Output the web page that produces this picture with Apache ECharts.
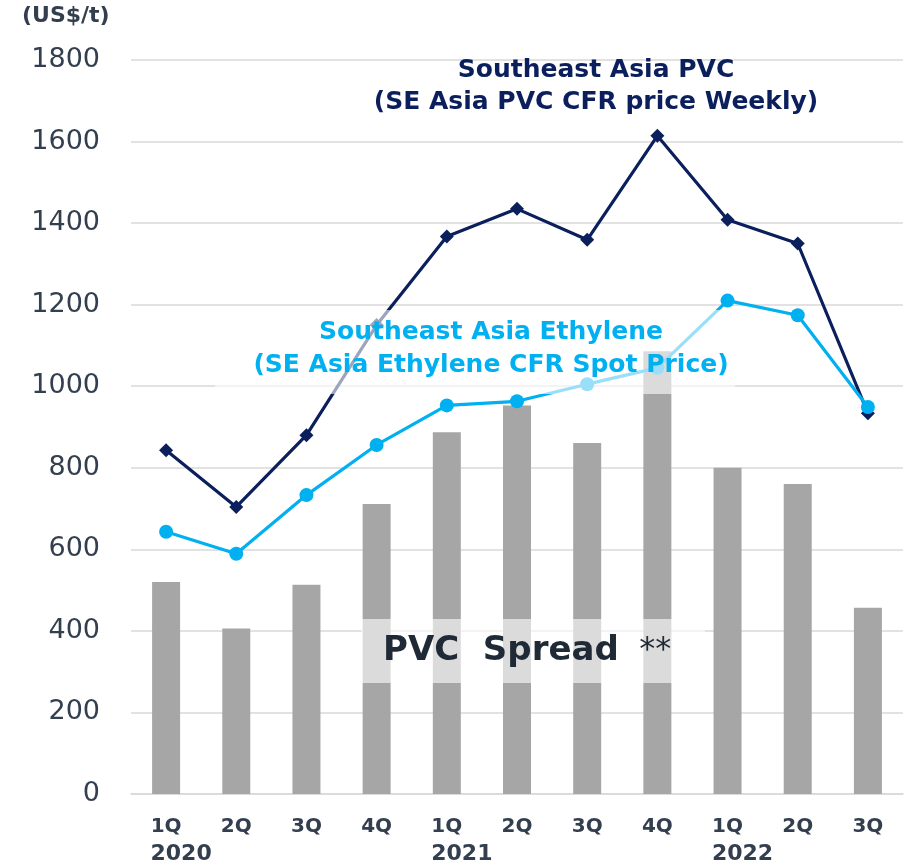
<!DOCTYPE html>
<html><head><meta charset="utf-8">
<script src="https://cdn.jsdelivr.net/npm/echarts@6/dist/echarts.min.js"></script>
<style>html,body{margin:0;padding:0;background:#fff}#c{width:906px;height:865px}</style>
</head><body><div id="c"></div>
<script>
const quarters = ['1Q','2Q','3Q','4Q','1Q','2Q','3Q','4Q','1Q','2Q','3Q'];
const years = ['2020','','','','2021','','','','2022','',''];
const spread = [520,406,513,711,887,953,861,1086,800,760,457];
const pvc = [843,704,880,1150,1367,1435,1359,1614,1408,1350,934];
const ethylene = [643,589,733,856,953,963,1005,1045,1210,1174,949];
const yMin = 0, yMax = 1800, yStep = 200;
const unitLabel = '(US$/t)';
const pvcTitle = 'Southeast Asia PVC\n(SE Asia PVC CFR price Weekly)';
const ethTitle = 'Southeast Asia Ethylene\n(SE Asia Ethylene CFR Spot Price)';

const FONT = '"DejaVu Sans", Verdana, sans-serif';
const TXT = '#333f4f';
const chart = echarts.init(document.getElementById('c'), null, {renderer: 'canvas'});
chart.setOption({
  animation: false,
  backgroundColor: '#ffffff',
  grid: {left: 131, right: 3, top: 60, bottom: 69, containLabel: false},
  xAxis: [{
    type: 'category', data: quarters, position: 'bottom',
    axisLine: {show: true, lineStyle: {color: '#d9d9d9', width: 1.5}},
    axisTick: {show: false},
    axisLabel: {margin: 23, interval: 0, fontFamily: FONT, fontSize: 20, fontWeight: 'bold', color: TXT}
  }, {
    type: 'category', data: years, position: 'bottom', offset: 41,
    axisLine: {show: false}, axisTick: {show: false}, splitLine: {show: false},
    axisLabel: {margin: 8, interval: 0, fontFamily: FONT, fontSize: 22, fontWeight: 'bold', color: TXT, padding: [0,0,0,30]}
  }],
  yAxis: {
    type: 'value', min: yMin, max: yMax, interval: yStep,
    axisLine: {show: false}, axisTick: {show: false},
    splitLine: {show: true, lineStyle: {color: '#d9d9d9', width: 1.5}},
    axisLabel: {margin: 31, fontFamily: FONT, fontSize: 27, color: TXT, formatter: v => String(v)}
  },
  series: [{
    type: 'bar', data: spread, barWidth: 28, itemStyle: {color: '#a6a6a6'}, z: 2
  }, {
    type: 'line', data: pvc, symbol: 'diamond', symbolSize: 14,
    lineStyle: {color: '#0b1f5c', width: 3.2}, itemStyle: {color: '#0b1f5c'}, z: 3
  }, {
    type: 'line', data: ethylene, symbol: 'circle', symbolSize: 14,
    lineStyle: {color: '#00b0f0', width: 3.2}, itemStyle: {color: '#00b0f0'}, z: 4
  }],
  graphic: [
    {type: 'text', left: 22, top: 5, z: 100, style: {text: unitLabel, font: 'bold 22px ' + FONT, fill: TXT}},
    {type: 'rect', z: 100, shape: {x: 215, y: 310, width: 520, height: 84}, style: {fill: 'rgba(255,255,255,0.6)'}},
    {type: 'text', z: 101, x: 491, y: 316, style: {text: ethTitle, font: 'bold 25px ' + FONT, fill: '#00b0f0', textAlign: 'center', textVerticalAlign: 'top', lineHeight: 33}},
    {type: 'rect', z: 100, shape: {x: 361, y: 619, width: 344, height: 64}, style: {fill: 'rgba(255,255,255,0.6)'}},
    {type: 'text', z: 101, x: 383, y: 651, style: {
      text: '{b|PVC  Spread}{n|  **}', textVerticalAlign: 'middle',
      rich: {b: {font: 'bold 34px ' + FONT, fill: '#1f2a36'}, n: {font: '32px ' + FONT, fill: '#1f2a36'}}
    }},
    {type: 'text', z: 101, x: 596, y: 54, style: {text: pvcTitle, font: 'bold 25px ' + FONT, fill: '#0b1f5c', textAlign: 'center', textVerticalAlign: 'top', lineHeight: 32}}
  ]
});
</script></body></html>
